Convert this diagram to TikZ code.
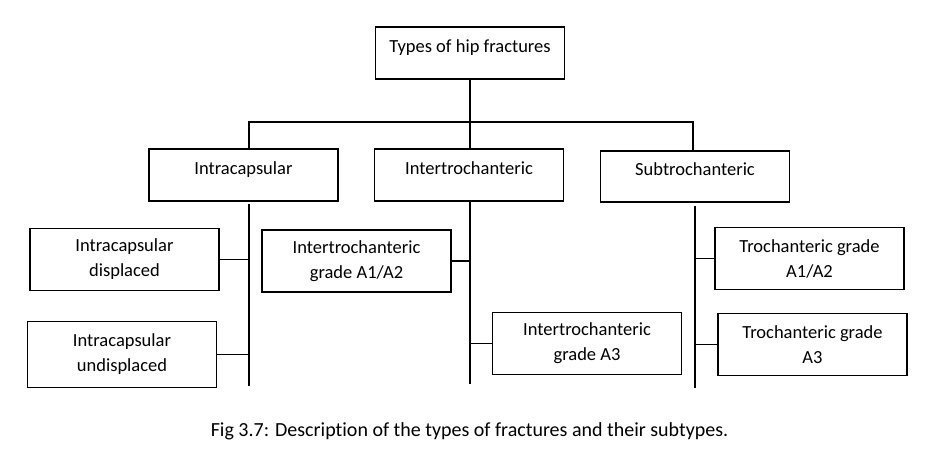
\documentclass[tikz,border=0pt]{standalone}
\usepackage{fontspec}
\setmainfont{Carlito}[Ligatures={NoCommon}]
\usetikzlibrary{positioning}

\begin{document}
\begin{tikzpicture}[
    x=1pt, y=-1pt,
    font=\fontsize{18.5}{25}\selectfont,
    typebox/.style={rectangle, draw=black, line width=1.5pt, minimum width=189pt, minimum height=52pt, align=center, text height=13pt, text depth=15pt},
    subbox/.style={rectangle, draw=black, line width=1.5pt, minimum width=189pt, minimum height=62pt, align=center},
    link/.style={draw=black, line width=1.5pt},
    figcap/.style={align=center, font=\fontsize{20}{24}\selectfont}
]
\useasboundingbox (0,0) rectangle (941,459);

% Main type and its three groups
\node[typebox] (hip) at (470,53) {Types of hip fractures};
\node[typebox] (intra) at (243.5,175) {Intracapsular};
\node[typebox] (inter) at (469,175) {Intertrochanteric};
\node[typebox, minimum height=51pt] (sub) at (695,176.5) {Subtrochanteric};

% Subtypes
\node[subbox] (icd) at (124.5,259.5) {Intracapsular\\displaced};
\node[subbox, minimum height=66pt] (icu) at (122,354.5) {Intracapsular\\undisplaced};
\node[subbox] (ita12) at (356.5,261) {Intertrochanteric\\grade A1/A2};
\node[subbox] (ita3) at (587,343.5) {Intertrochanteric\\grade A3};
\node[subbox] (tga12) at (809.5,258.5) {Trochanteric grade\\A1/A2};
\node[subbox] (tga3) at (812.5,344.5) {Trochanteric grade\\A3};

% Bar over the groups
\coordinate (barL) at (249,122);
\coordinate (barR) at (693,122);
\draw[link] (hip.south) -- (hip.south |- inter.north);
\draw[link] (barL |- intra.north) -- (barL) -- (barR) -- (barR |- sub.north);

% Spines below the groups
\coordinate (intraEnd) at (249,386);
\coordinate (interEnd) at (470,384);
\coordinate (subEnd) at (695,388);
\draw[link, shorten <=2pt] (intra.south -| intraEnd) -- (intraEnd);
\draw[link] (inter.south -| interEnd) -- (interEnd);
\draw[link, shorten <=3pt] (sub.south -| subEnd) -- (subEnd);

% Branches to the subtypes
\draw[link] (icd.east) -- (icd.east -| intraEnd);
\draw[link] (icu.east) -- (icu.east -| intraEnd);
\draw[link] (ita12.east) -- (ita12.east -| interEnd);
\draw[link] (ita3.west) -- (ita3.west -| interEnd);
\draw[link] (tga12.west) -- (tga12.west -| subEnd);
\draw[link] (tga3.west) -- (tga3.west -| subEnd);

% Caption
\node[figcap] (cap) at (469.5,431) {Fig 3.7: Description of the types of fractures and their subtypes.};

\end{tikzpicture}
\end{document}
